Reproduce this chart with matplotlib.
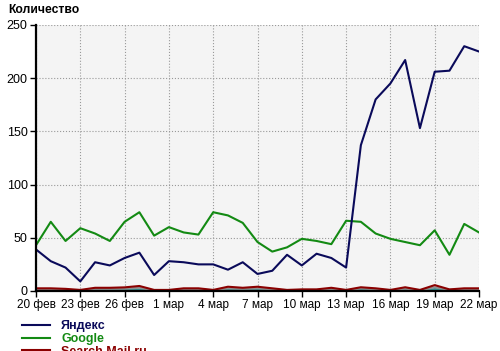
import numpy as np
import matplotlib.pyplot as plt

# ==============================
# DATA (20 фев .. 22 мар, one point per day)
# ==============================
days = np.arange(31)
tick_days = [0, 3, 6, 9, 12, 15, 18, 21, 24, 27, 30]
tick_labels = ["20 фев", "23 фев", "26 фев", "1 мар", "4 мар", "7 мар",
               "10 мар", "13 мар", "16 мар", "19 мар", "22 мар"]

yandex = [39, 28, 22, 9, 27, 24, 31, 36, 15, 28, 27, 25, 25, 20, 27, 16,
          19, 34, 24, 35, 31, 22, 137, 180, 195, 217, 153, 206, 207, 230, 225]
google = [43, 65, 47, 59, 54, 47, 65, 74, 52, 60, 55, 53, 74, 71, 64, 46,
          37, 41, 49, 47, 44, 66, 65, 54, 49, 46, 43, 57, 34, 63, 55]
mailru = [2.5, 2.5, 2, 1, 3, 3, 3.4, 4.7, 1, 1, 2.5, 2.5, 1, 4, 3, 4,
          2.5, 1, 1.5, 1.5, 3, 1, 3.5, 2.5, 1, 3.5, 1, 5.5, 1.5, 2.5, 2.5]
other1 = [1.5, 1.5, 1.2, 0.5, 2, 2, 2.2, 3, 0.5, 0.5, 1.5, 1.5, 0.5, 2.5, 2, 2.5,
          1.5, 0.5, 1, 1, 2, 0.5, 2.5, 1.5, 0.5, 2.2, 0.5, 3.5, 1, 1.5, 1.5]
other2 = [0.8, 0.8, 0.6, 0.2, 1, 1, 1, 1.5, 0.2, 0.2, 0.8, 0.8, 0.2, 1.2, 1, 1.2,
          0.8, 0.2, 0.5, 0.5, 1, 0.2, 1.2, 0.8, 0.2, 1, 0.2, 1.8, 0.5, 0.8, 0.8]

# ==============================
# PLOT
# ==============================
plt.rcParams['font.family'] = ['Liberation Sans', 'DejaVu Sans']

fig = plt.figure(figsize=(5, 3.51), dpi=100)
ax = fig.add_axes([0.072, 0.171, 0.886, 0.758])
ax.set_facecolor('#f4f4f4')

ax.plot(days, other2, color='#2f8f8f', lw=1.5)
ax.plot(days, other1, color='#909090', lw=1.5)
ax.plot(days, mailru, color='#8b0000', lw=1.5, label='Search Mail.ru')
ax.plot(days, google, color='#138a13', lw=1.5, label='Google')
ax.plot(days, yandex, color='#0a0a5a', lw=1.5, label='Яндекс')

ax.set_xlim(0, 30)
ax.set_ylim(0, 250)
ax.set_xticks(tick_days)
ax.set_xticklabels(tick_labels)
ax.set_yticks([0, 50, 100, 150, 200, 250])
ax.tick_params(labelsize=8.5, length=4, width=1, pad=2)
ax.tick_params(axis='y', labelsize=9)
ax.grid(True, linestyle=':', color='#999999', lw=0.8)
for s in ['top', 'right']:
    ax.spines[s].set_visible(False)
for s in ['left', 'bottom']:
    ax.spines[s].set_linewidth(1.6)

fig.text(0.016, 0.99, "Количество", fontsize=8.7, fontweight='bold', va='top')

handles, labels = ax.get_legend_handles_labels()
leg = fig.legend(handles[::-1], labels[::-1], loc='upper left',
                 bbox_to_anchor=(0.032, 0.105), frameon=False,
                 prop={'size': 9, 'weight': 'bold'}, handlelength=2.2,
                 handletextpad=0.9, labelspacing=0.05, borderpad=0)
for t, h in zip(leg.get_texts(), leg.legend_handles):
    t.set_color(h.get_color())

fig.savefig("out.png", dpi=100)
